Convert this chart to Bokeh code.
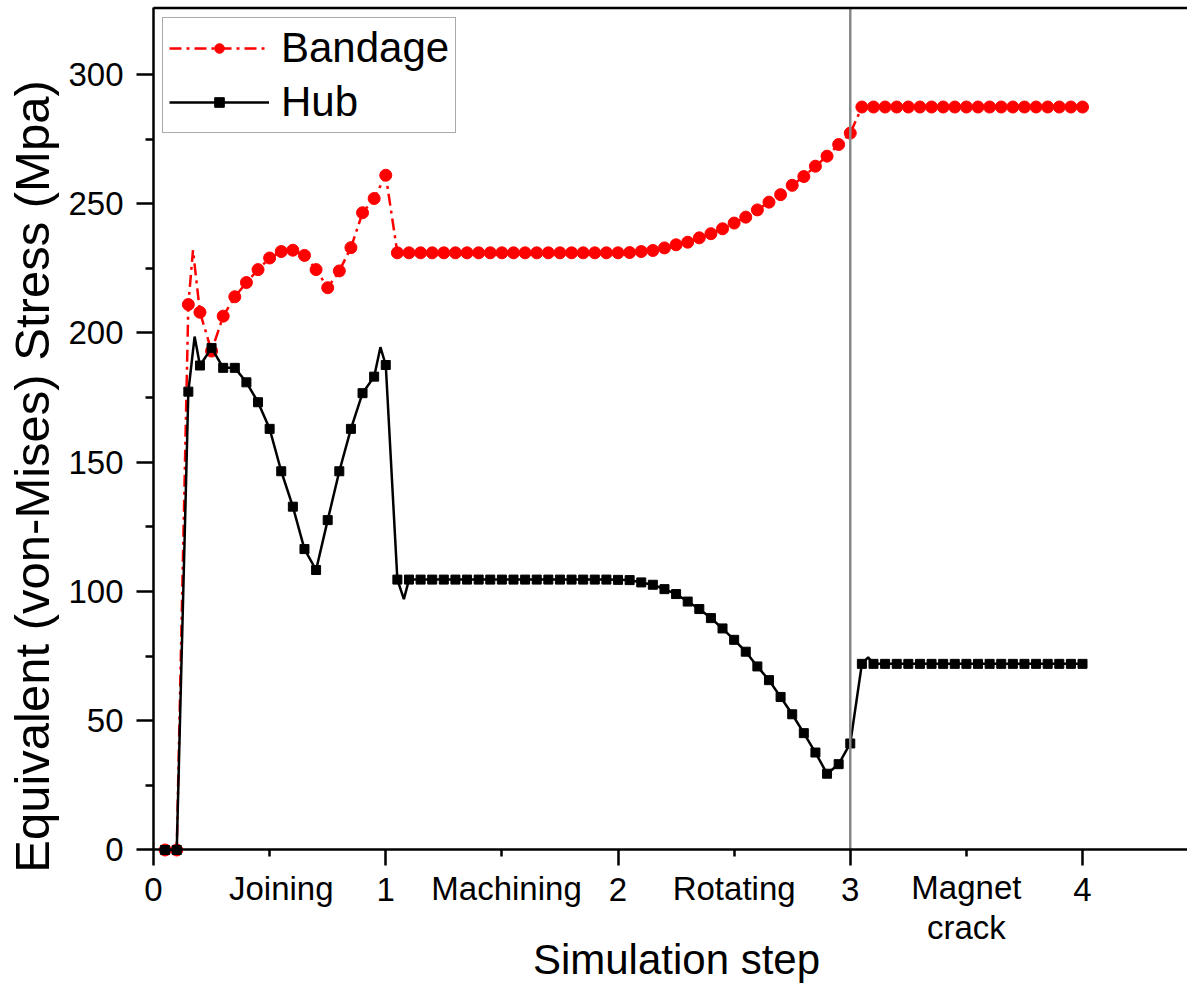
import numpy as np
from bokeh.plotting import figure
from bokeh.models import Range1d, FixedTicker, Legend, LegendItem, Label
from bokeh.embed import file_html
from bokeh.resources import INLINE

FONT = "Liberation Sans"

# ---------------- data ----------------
step_x = np.round(np.arange(1, 81) * 0.05, 2)  # 0.05 ... 4.00 simulation sub-steps

bandage = [0, 0, 211, 208, 193, 206.5, 214, 219.5, 224.5, 229,
           231.5, 232, 230, 224.5, 217.5, 224, 233, 246.5, 252, 261,
           231, 231, 231, 231, 231, 231, 231, 231, 231, 231,
           231, 231, 231, 231, 231, 231, 231, 231, 231,
           231, 231.1, 231.5, 231.9, 232.9, 234.1, 235.1, 236.8, 238.4, 240.3,
           242.5, 244.8, 247.6, 250.6, 253.5, 257.1, 260.5, 264.5, 268.4, 272.9, 277.3,
           287.4, 287.4, 287.4, 287.4, 287.4, 287.4, 287.4, 287.4, 287.4, 287.4,
           287.4, 287.4, 287.4, 287.4, 287.4, 287.4, 287.4, 287.4, 287.4, 287.4]

hub = [0, 0, 177.3, 187.4, 194.2, 186.5, 186.5, 180.9, 173.2, 162.9,
       146.5, 132.8, 116.4, 108.3, 127.6, 146.5, 162.9, 176.7, 183.1, 187.6,
       104.6, 104.6, 104.6, 104.6, 104.6, 104.6, 104.6, 104.6, 104.6, 104.6,
       104.6, 104.6, 104.6, 104.6, 104.6, 104.6, 104.6, 104.6, 104.6,
       104.5, 104.4, 103.5, 102.6, 100.9, 99.0, 96.1, 93.2, 89.7, 85.7,
       81.3, 76.7, 71.0, 65.7, 59.2, 52.5, 45.2, 37.7, 29.5, 33.2, 41.2,
       72, 72, 72, 72, 72, 72, 72, 72, 72, 72,
       72, 72, 72, 72, 72, 72, 72, 72, 72, 72]

# spline overshoot points of the connecting curves (line only, no marker)
bandage_curve_x = [0.17]
bandage_curve_y = [232.0]
hub_curve_x = [0.177, 0.977, 1.078, 3.077]
hub_curve_y = [198.6, 194.5, 97.0, 74.5]

x_ticks = [0, 1, 2, 3, 4]
x_minor = [0.5, 1.5, 2.5, 3.5]
stage_x = [0.55, 1.52, 2.5, 3.5]
stage_labels = ["Joining", "Machining", "Rotating", "Magnet\ncrack"]
y_ticks = [0, 50, 100, 150, 200, 250, 300]
y_minor = [25, 75, 125, 175, 225, 275]
stage_boundary = 3

X_START, X_END = -0.6588, 4.452
Y_START, Y_END = -52.03, 328.6
Y_TOP = 325.7

assert len(bandage) == len(step_x) == len(hub)


def curve(xs, ys, ex, ey):
    x = np.concatenate([np.asarray(xs, float), np.asarray(ex, float)])
    y = np.concatenate([np.asarray(ys, float), np.asarray(ey, float)])
    o = np.argsort(x, kind="stable")
    return x[o], y[o]


# ---------------- figure ----------------
W, H = 1187, 984
p = figure(width=W, height=H, output_backend="svg", toolbar_location=None,
           x_range=Range1d(X_START, X_END), y_range=Range1d(Y_START, Y_END),
           min_border_left=0, min_border_right=0, min_border_top=0, min_border_bottom=0)
p.background_fill_color = "white"
p.border_fill_color = "white"
p.outline_line_color = None
p.xgrid.visible = False
p.ygrid.visible = False

bx, by = curve(step_x, bandage, bandage_curve_x, bandage_curve_y)
hx, hy = curve(step_x, hub, hub_curve_x, hub_curve_y)

bl = p.line(bx, by, line_color="#ff0000", line_width=2.5, line_dash="12 5 3 5")
bs = p.scatter(step_x, bandage, marker="circle", size=12, fill_color="#ff0000", line_color="#ff0000")
hl = p.line(hx, hy, line_color="black", line_width=2.5)
hs = p.scatter(step_x, hub, marker="square", size=9, fill_color="black", line_color="black")

# stage boundary line and top frame line
p.segment(x0=[stage_boundary], y0=[0], x1=[stage_boundary], y1=[Y_TOP],
          line_color="#888888", line_width=2.5)
p.segment(x0=[0], y0=[Y_TOP], x1=[X_END], y1=[Y_TOP], line_color="black", line_width=2.5)

# axes, placed at the data origin
xa = p.xaxis[0]
xa.fixed_location = 0
xa.bounds = (0, X_END)
xa.ticker = FixedTicker(ticks=x_ticks, minor_ticks=x_minor)
xa.major_tick_out = 16
xa.major_tick_in = 0
xa.minor_tick_out = 7
xa.minor_tick_in = 0
xa.axis_line_width = 2.5
xa.major_tick_line_width = 2.5
xa.minor_tick_line_width = 2.5
xa.major_label_text_font = FONT
xa.major_label_text_font_size = "33px"
xa.major_label_text_color = "black"
xa.major_label_standoff = 12

ya = p.yaxis[0]
ya.fixed_location = 0
ya.bounds = (0, Y_TOP)
ya.ticker = FixedTicker(ticks=y_ticks, minor_ticks=y_minor)
ya.major_tick_out = 17
ya.major_tick_in = 0
ya.minor_tick_out = 8
ya.minor_tick_in = 0
ya.axis_line_width = 2.5
ya.major_tick_line_width = 2.5
ya.minor_tick_line_width = 2.5
ya.major_label_text_font = FONT
ya.major_label_text_font_size = "33px"
ya.major_label_text_color = "black"
ya.major_label_standoff = 13

# stage labels below the x axis (screen y measured from the bottom of the canvas)
for sx, lab in zip(stage_x, stage_labels):
    lines = lab.split("\n")
    base = 96 if len(lines) == 1 else 97
    for i, t in enumerate(lines):
        p.add_layout(Label(x=sx, y=base - 40 * i, x_units="data", y_units="screen", text=t,
                           text_font=FONT, text_font_size="33px", text_color="black",
                           text_align="center", text_baseline="middle"))

# axis titles
p.add_layout(Label(x=676, y=25, x_units="screen", y_units="screen", text="Simulation step",
                   text_font=FONT, text_font_size="42px", text_color="black",
                   text_align="center", text_baseline="middle"))
p.add_layout(Label(x=31, y=508, x_units="screen", y_units="screen", angle=np.pi / 2,
                   text="Equivalent (von-Mises) Stress (Mpa)",
                   text_font=FONT, text_font_size="49px", text_color="black",
                   text_align="center", text_baseline="middle"))

legend = Legend(items=[LegendItem(label="Bandage", renderers=[bl, bs]),
                       LegendItem(label="Hub", renderers=[hl, hs])],
                location=(162, 851), padding=6, spacing=6,
                glyph_width=100, glyph_height=24, label_height=42, label_standoff=12,
                label_text_font=FONT, label_text_font_size="42px", label_text_color="black",
                border_line_color="#555555", border_line_width=1.5,
                background_fill_color="white", background_fill_alpha=1.0)
p.add_layout(legend)

open("out.html", "w").write(file_html(p, INLINE))
